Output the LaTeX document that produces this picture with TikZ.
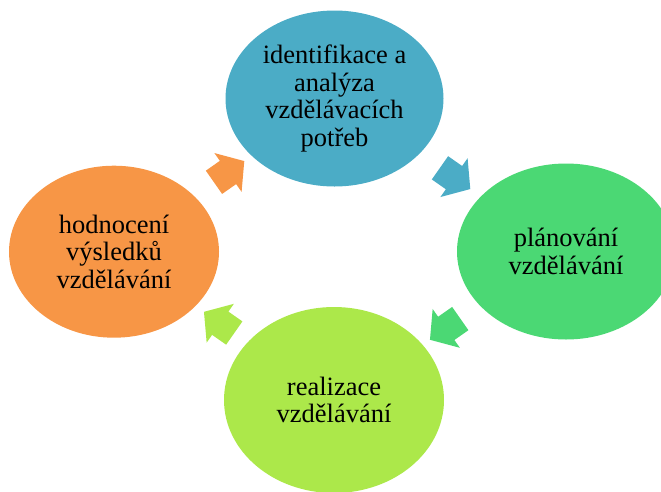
\documentclass[tikz,border=0pt]{standalone}
\usepackage{fontspec}
\setmainfont{Liberation Serif}
\usetikzlibrary{calc, shapes.geometric, shapes.arrows}
\definecolor{cblue}{HTML}{4BACC6}
\definecolor{cgreen}{HTML}{4BD874}
\definecolor{clime}{HTML}{ACE84A}
\definecolor{corange}{HTML}{F79646}
\begin{document}
\begin{tikzpicture}[x=1pt, y=-1pt,
	faze/.style={ellipse, minimum width=218pt, minimum height=176pt, inner sep=0pt,
		align=center, font=\fontsize{26.5}{27.5}\selectfont},
	sipka/.style={single arrow, minimum height=37pt, minimum width=47pt,
		inner xsep=0pt, inner ysep=14pt,
		single arrow head extend=9.5pt, single arrow tip angle=100}]
	\clip (0,0) rectangle (661,491);
	\useasboundingbox (0,0) rectangle (661,491);
	
	\node[faze, fill=cblue] (anal) at (334.5,98.5) {identifikace a\\analýza\\vzdělávacích\\potřeb};
	\node[faze, fill=cgreen] (plan) at (566,251.5) {plánování\\vzdělávání};
	\node[faze, fill=clime, minimum width=220pt, minimum height=186pt] (real) at (334,400) {realizace\\vzdělávání};
	\node[faze, fill=corange, minimum width=210pt, minimum height=172pt] (hodn) at (114,251.7) {hodnocení\\výsledků\\vzdělávání};
	
	\node[sipka, fill=cblue, rotate=-35] (s1) at ($(anal)!0.5!(plan)$) {};
	\node[sipka, fill=cgreen, rotate=215] (s2) at ($(plan)!0.5!(real)$) {};
	\node[sipka, fill=clime, rotate=145] (s3) at ($(real)!0.5!(hodn)$) {};
	\node[sipka, fill=corange, rotate=35] (s4) at ($(hodn)!0.5!(anal)$) {};
\end{tikzpicture}
\end{document}
